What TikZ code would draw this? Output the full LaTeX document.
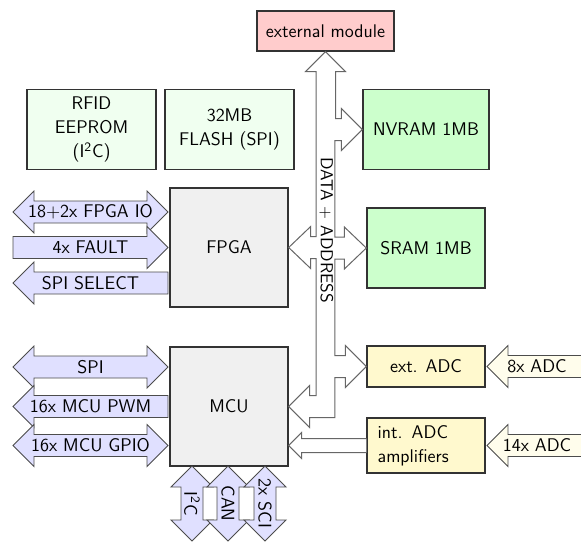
\documentclass[tikz,border=0pt]{standalone}
\usepackage{tikz}
\usepackage{xcolor}
\usetikzlibrary{shapes,arrows,positioning,calc}

\definecolor{adcbox}{RGB}{255,249,206}
\definecolor{adcsig}{RGB}{255,253,236}

% fat signal arrows, drawn from the tail along +x (length, label)
\tikzset{
    pics/oneway/.style 2 args={code={
        \path[pic actions] (0,-11) -- ({#1-21},-11) -- ({#1-21},-21) -- (#1,0)
            -- ({#1-21},21) -- ({#1-21},11) -- (0,11) -- cycle;
        \node (-lbl) at ({#1/2},0) {#2};
    }},
    pics/twoway/.style 2 args={code={
        \path[pic actions] (0,0) -- (21,-21) -- (21,-11) -- ({#1-21},-11) -- ({#1-21},-21) -- (#1,0)
            -- ({#1-21},21) -- ({#1-21},11) -- (21,11) -- (21,21) -- cycle;
        \node (-lbl) at ({#1/2},0) {#2};
    }}
}

\begin{document}
\begin{tikzpicture}[x=0.6pt,y=-0.6pt,
    font=\sffamily\fontsize{11}{14.5}\selectfont,
    block/.style={draw=black!80, line width=0.8pt, align=center, inner sep=2pt},
    chip/.style={block, fill=black!6, minimum width=70.8pt, minimum height=71.4pt},
    mem/.style={block, fill=green!20, minimum width=70.8pt, minimum height=48pt},
    rom/.style={block, fill=green!6, minimum width=77.4pt, minimum height=48pt},
    adc/.style={block, fill=adcbox, minimum width=70.8pt},
    sig/.style={draw=black!70, line width=0.5pt, fill=blue!12},
    adcin/.style={sig, fill=adcsig, rotate=180},
    bus/.style={draw=black!60, line width=0.6pt, fill=white}]
    \useasboundingbox (0,0) rectangle (581,543);

    % top row
    \node[block, fill=red!20, minimum width=82.2pt, minimum height=24pt] (ext) at (325.5,31) {external module};
    \node[rom] (rfid) at (91.5,129.5) {RFID\\EEPROM\\(I\textsuperscript{2}C)};
    \node[rom] (flash) at (229.5,129.5) {32MB\\FLASH (SPI)};
    \node[mem, minimum width=75.6pt] (nvram) at (426,129.5) {NVRAM 1MB};

    % processors
    \node[chip] (fpga) at (229,247.5) {FPGA};
    \node[chip] (mcu) at (229,406.5) {MCU};

    % memory and adc
    \node[mem] (sram) at (426,248) {SRAM 1MB};
    \node[adc, minimum height=24.6pt] (extadc) at (426,366.5) {ext. ADC};
    \node[adc, minimum height=33pt, text width=58pt, align=left] (intadc) at (426,445.5) {int. ADC\\amplifiers};

    % fpga signals
    \pic[sig] (fpgaio) at (13,212) {twoway={155}{18$+$2x FPGA IO}};
    \pic[sig] (fault) at (13,247.5) {oneway={155}{4x FAULT}};
    \pic[sig, rotate=180] (spisel) at (168,283) {oneway={155}{SPI SELECT}};

    % mcu signals
    \pic[sig] (spi) at (13,367) {twoway={155}{SPI}};
    \pic[sig, rotate=180] (pwm) at (168,406.5) {oneway={155}{16x MCU PWM}};
    \pic[sig] (gpio) at (13,445.5) {twoway={155}{16x MCU GPIO}};
    \pic[sig, rotate=-90, transform shape] (i2c) at (192,466) {twoway={75}{I\textsuperscript{2}C}};
    \pic[sig, rotate=-90, transform shape] (can) at (228,466) {twoway={75}{CAN}};
    \pic[sig, rotate=-90, transform shape] (sci) at (265,466) {twoway={75}{2x SCI}};

    % analog inputs
    \pic[adcin] (adc8) at (587,366.5) {oneway={100}{8x ADC}};
    \pic[adcin] (adc14) at (587,445.5) {oneway={100}{14x ADC}};

    % data + address bus
    \draw[bus] (ext.south) -- ++(20,20) -- ++(-10,0)
        |- ([shift={(-21,-11)}]nvram.west) -- ++(0,-10) -- (nvram.west) -- ++(-21,21) -- ++(0,-10) -- ++(-6.5,0)
        |- ([shift={(-22,-11)}]sram.west) -- ++(0,-10) -- (sram.west) -- ++(-22,21) -- ++(0,-10) -- ++(-9.5,0)
        |- ([shift={(-21,-11)}]extadc.west) -- ++(0,-10) -- (extadc.west) -- ++(-21,21) -- ++(0,-10) -- ++(-10.5,0)
        |- ([shift={(21,11)}]mcu.east) -- ++(0,10) -- (mcu.east) -- ++(21,-21) -- ++(0,10) -- ++(6.5,0)
        |- ([shift={(22,11)}]fpga.east) -- ++(0,10) -- (fpga.east) -- ++(22,-21) -- ++(0,10) -- ++(5.5,0)
        |- ([shift={(-20,20)}]ext.south) -- cycle;
    \node[rotate=-90, font=\sffamily\fontsize{10.4}{12}\selectfont] (buslbl) at (326.5,230) {DATA $+$ ADDRESS};

    % amplifiers to mcu
    \coordinate (amptip) at (mcu.east |- intadc.west);
    \draw[bus] ([shift={(0,-7)}]intadc.west) -- ([shift={(13,-7)}]amptip) -- ++(0,-6) -- (amptip)
        -- ++(13,13) -- ++(0,-6) -- ([shift={(0,7)}]intadc.west);
\end{tikzpicture}
\end{document}
